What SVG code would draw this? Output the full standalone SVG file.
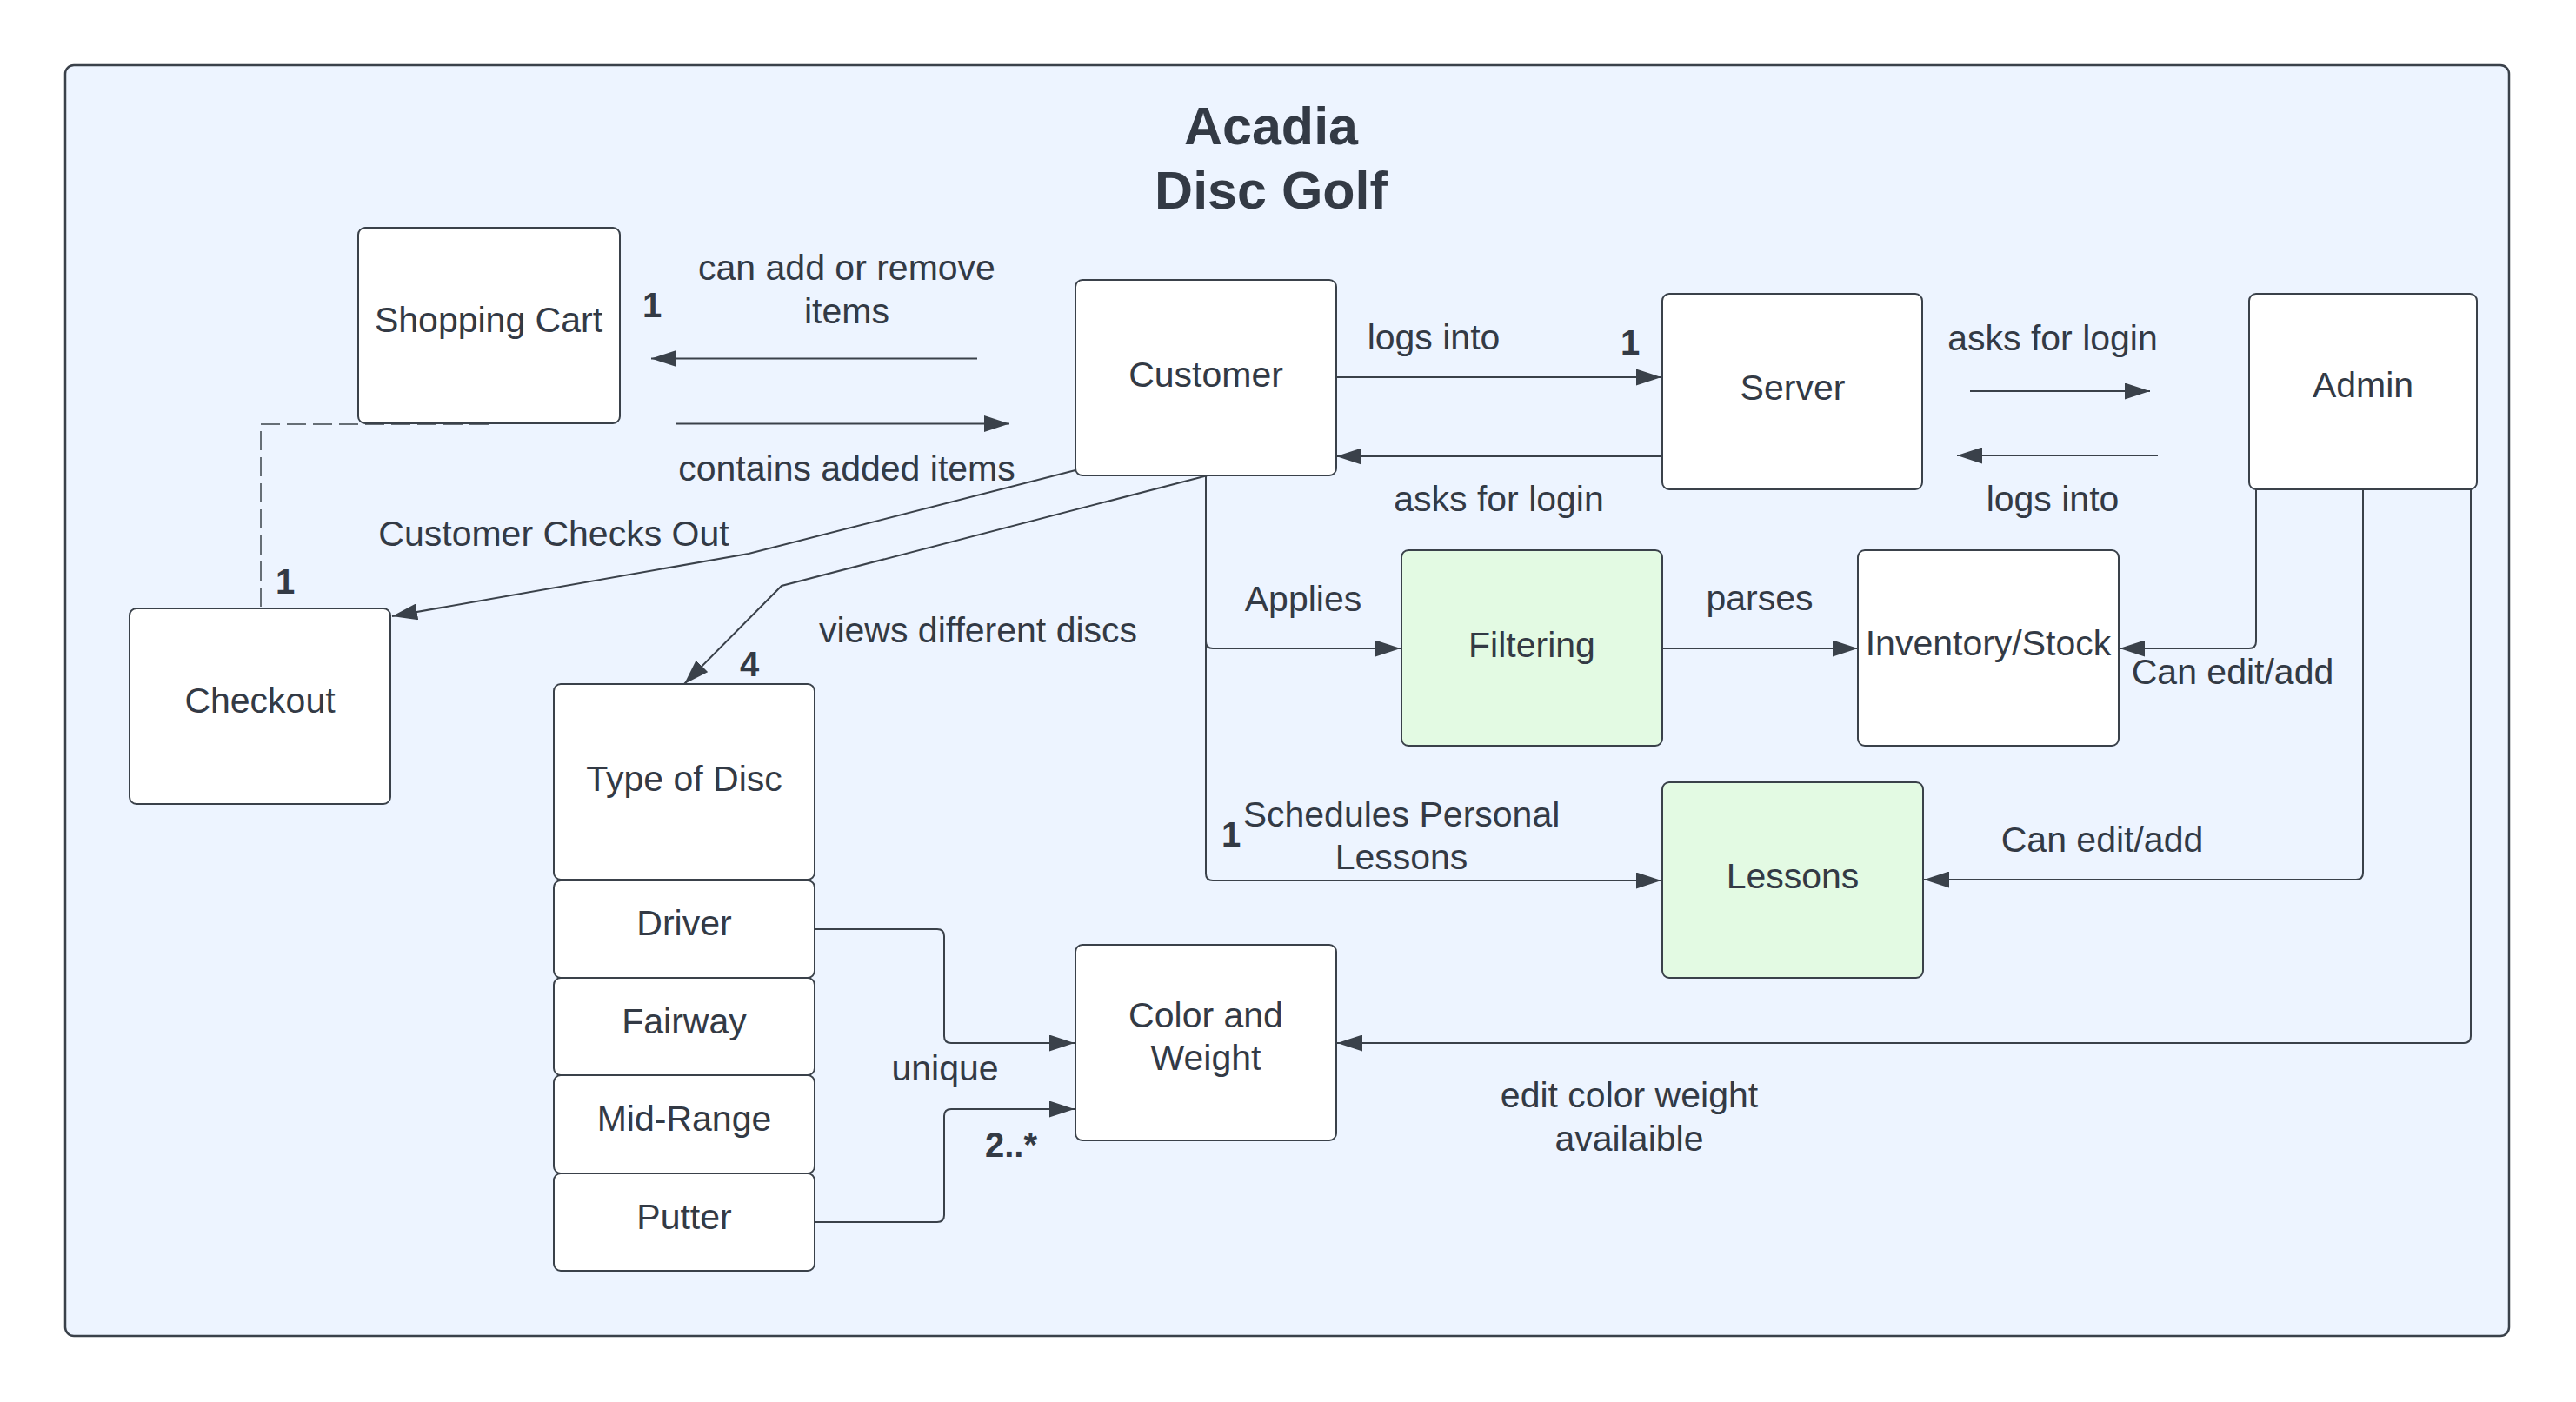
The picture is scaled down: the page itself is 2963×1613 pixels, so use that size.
<svg xmlns="http://www.w3.org/2000/svg" width="2963" height="1613" viewBox="0 0 2963 1613">
<style>
.box{fill:#ffffff;stroke:#3a414a;stroke-width:2}
.green{fill:#e3fae3;stroke:#3a414a;stroke-width:2}
.t{font-family:"Liberation Sans",Arial,sans-serif;font-size:41px;fill:#333a45;text-anchor:middle}
.b{font-family:"Liberation Sans",Arial,sans-serif;font-size:40px;font-weight:bold;fill:#333a45;text-anchor:middle}
.title{font-family:"Liberation Sans",Arial,sans-serif;font-size:61px;font-weight:bold;fill:#333a45;text-anchor:middle}
.c{fill:none;stroke:#3a414a;stroke-width:2;marker-end:url(#arr)}
.d{fill:none;stroke:#3a414a;stroke-width:1.5;stroke-dasharray:22 8}
</style>
<defs>
<marker id="arr" viewBox="0 0 29 19" refX="29" refY="9.5" markerWidth="29" markerHeight="19" markerUnits="userSpaceOnUse" orient="auto">
<path d="M0,0 L29,9.5 L0,19 z" fill="#3a414a"/>
</marker>
</defs>
<rect width="2963" height="1613" fill="#ffffff"/>
<g id="container">
<rect x="75" y="75" width="2811" height="1462" rx="10" fill="#edf4ff" stroke="#3a414a" stroke-width="2.5"/>
<text class="title" x="1462" y="166">Acadia</text>
<text class="title" x="1462" y="240">Disc Golf</text>
</g>
<g id="connectors">
<path class="d" d="M562,488 H300 V700"/>
<path class="c" d="M1124,412.5 H749"/>
<path class="c" d="M778,487.5 H1161"/>
<path class="c" d="M1237,434 H1911"/>
<path class="c" d="M1911,525 H1537"/>
<path class="c" d="M2266,450 H2473"/>
<path class="c" d="M2482,524 H2251"/>
<path class="c" d="M1912,746 H2137"/>
<path class="c" d="M1237,541 L861,637 L451,709"/>
<path class="c" d="M1389,547 L899,674 L787,787"/>
<path class="c" d="M1387,547 V738 Q1387,746 1395,746 H1611"/>
<path class="c" d="M1387,547 V1005 Q1387,1013 1395,1013 H1911"/>
<path class="c" d="M2595,563 V738 Q2595,746 2587,746 H2438"/>
<path class="c" d="M2718,563 V1004 Q2718,1012 2710,1012 H2213"/>
<path class="c" d="M2842,563 V1192 Q2842,1200 2834,1200 H1538"/>
<path class="c" d="M937,1069 H1078 Q1086,1069 1086,1077 V1192 Q1086,1200 1094,1200 H1236"/>
<path class="c" d="M937,1406 H1078 Q1086,1406 1086,1398 V1284 Q1086,1276 1094,1276 H1236"/>
</g>
<g id="labels">
<text class="t" x="974" y="322">can add or remove</text>
<text class="t" x="974" y="372">items</text>
<text class="b" x="750" y="365">1</text>
<text class="t" x="974" y="553">contains added items</text>
<text class="b" x="328" y="683">1</text>
<text class="t" x="637" y="628">Customer Checks Out</text>
<text class="t" x="1125" y="739">views different discs</text>
<text class="b" x="862" y="778">4</text>
<text class="t" x="1649" y="402">logs into</text>
<text class="b" x="1875" y="408">1</text>
<text class="t" x="1724" y="588">asks for login</text>
<text class="t" x="2361" y="403">asks for login</text>
<text class="t" x="2361" y="588">logs into</text>
<text class="t" x="1499" y="703">Applies</text>
<text class="t" x="2024" y="702">parses</text>
<text class="t" x="2568" y="787">Can edit/add</text>
<text class="t" x="1612" y="951">Schedules Personal</text>
<text class="t" x="1612" y="1000">Lessons</text>
<text class="b" x="1416" y="974">1</text>
<text class="t" x="2418" y="980">Can edit/add</text>
<text class="t" x="1874" y="1274">edit color weight</text>
<text class="t" x="1874" y="1324">availaible</text>
<text class="t" x="1087" y="1243">unique</text>
<text class="b" x="1163" y="1331">2..*</text>
</g>
<g id="shopping-cart"><rect class="box" x="412" y="262" width="301" height="225" rx="8"/><text class="t" x="562" y="382">Shopping Cart</text></g>
<g id="customer"><rect class="box" x="1237" y="322" width="300" height="225" rx="8"/><text class="t" x="1387" y="445">Customer</text></g>
<g id="server"><rect class="box" x="1912" y="338" width="299" height="225" rx="8"/><text class="t" x="2062" y="460">Server</text></g>
<g id="admin"><rect class="box" x="2587" y="338" width="262" height="225" rx="8"/><text class="t" x="2718" y="457">Admin</text></g>
<g id="checkout"><rect class="box" x="149" y="700" width="300" height="225" rx="8"/><text class="t" x="299" y="820">Checkout</text></g>
<g id="type-of-disc"><rect class="box" x="637" y="787" width="300" height="225" rx="8"/><text class="t" x="787" y="910">Type of Disc</text></g>
<g id="driver"><rect class="box" x="637" y="1013" width="300" height="112" rx="8"/><text class="t" x="787" y="1076">Driver</text></g>
<g id="fairway"><rect class="box" x="637" y="1125" width="300" height="112" rx="8"/><text class="t" x="787" y="1189">Fairway</text></g>
<g id="mid-range"><rect class="box" x="637" y="1237" width="300" height="113" rx="8"/><text class="t" x="787" y="1301">Mid-Range</text></g>
<g id="putter"><rect class="box" x="637" y="1350" width="300" height="112" rx="8"/><text class="t" x="787" y="1414">Putter</text></g>
<g id="color-weight"><rect class="box" x="1237" y="1087" width="300" height="225" rx="8"/><text class="t" x="1387" y="1182">Color and</text><text class="t" x="1387" y="1231">Weight</text></g>
<g id="filtering"><rect class="green" x="1612" y="633" width="300" height="225" rx="8"/><text class="t" x="1762" y="756">Filtering</text></g>
<g id="inventory"><rect class="box" x="2137" y="633" width="300" height="225" rx="8"/><text class="t" x="2287" y="754">Inventory/Stock</text></g>
<g id="lessons"><rect class="green" x="1912" y="900" width="300" height="225" rx="8"/><text class="t" x="2062" y="1022">Lessons</text></g>
</svg>
